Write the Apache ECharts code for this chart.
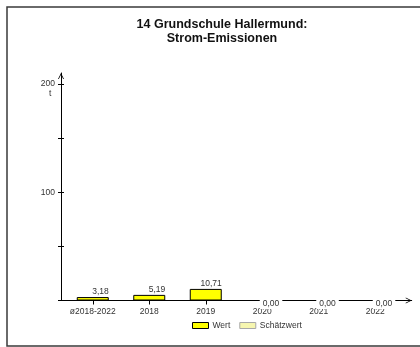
<!DOCTYPE html>
<html>
<head>
<meta charset="utf-8">
<script src="https://cdn.jsdelivr.net/npm/echarts@6/dist/echarts.min.js"></script>
<style>html,body{margin:0;padding:0;background:#fff}#c{width:420px;height:347px}</style>
</head>
<body>
<div id="c"></div>
<script>
var categories = ['ø2018-2022', '2018', '2019', '2020', '2021', '2022'];
var wertValues = [3.18, 5.19, 10.71, 0, 0, 0];
var schaetzValues = [];
var yTicks = [0, 50, 100, 150, 200];
var yLabels = [100, 200];
var yUnit = 't';

var FONT = 'Liberation Sans';
var FS = 8.5;
function fmt(v) { return v.toFixed(2).replace('.', ','); }

var zeroLabel = {
  position: [14, 3.5], align: 'left', verticalAlign: 'middle',
  backgroundColor: '#fff', padding: [1, 3]
};
var wertData = wertValues.map(function (v) {
  return v === 0 ? { value: v, label: zeroLabel } : v;
});

var arrowPath = 'path://M0,10 L5,0 L10,10 L8.6,10 L5,2.8 L1.4,10 Z';

var chart = echarts.init(document.getElementById('c'));
chart.setOption({
  animation: false,
  backgroundColor: '#fff',
  textStyle: { fontFamily: FONT },
  title: [{
    text: '14 Grundschule Hallermund:\nStrom-Emissionen',
    left: 222, top: 18, padding: 0, textAlign: 'center',
    textStyle: { fontFamily: FONT, fontSize: 12.5, fontWeight: 'bold', color: '#111', lineHeight: 14 }
  }, {
    text: yUnit, left: 49, top: 89, padding: 0,
    textStyle: { fontFamily: FONT, fontSize: FS, fontWeight: 'normal', color: '#333' }
  }],
  graphic: [{
    type: 'rect', silent: true,
    shape: { x: 7, y: 7, width: 440, height: 339 },
    style: { fill: 'none', stroke: '#3a3a3a', lineWidth: 1.5 }
  }],
  legend: {
    data: [
      { name: 'Wert', itemStyle: { color: '#ffff00', borderColor: '#000', borderWidth: 1 } },
      { name: 'Schätzwert', itemStyle: { color: '#f6f6b0', borderColor: '#a8a8a8', borderWidth: 1 } }
    ],
    left: 192, top: 321,
    icon: 'rect', itemWidth: 16, itemHeight: 6, itemGap: 9,
    padding: 0,
    textStyle: { fontFamily: FONT, fontSize: FS, color: '#333', padding: [0, 0, 0, -1] }
  },
  grid: [
    { left: 64.5, right: 16.5, top: 84, bottom: 46.5 },
    { left: 61, right: 8.3, top: 73, bottom: 46.5 }
  ],
  xAxis: [{
    type: 'category', gridIndex: 0, data: categories,
    axisLine: { show: false },
    axisTick: { show: true, alignWithLabel: true, length: 4, lineStyle: { color: '#000' } },
    axisLabel: { interval: 0, margin: 7, fontSize: FS, color: '#333', fontFamily: FONT },
    splitLine: { show: false }
  }, {
    type: 'value', gridIndex: 1, min: 0, max: 1,
    axisLine: { show: true, lineStyle: { color: '#000', width: 1 }, symbol: ['none', arrowPath], symbolSize: [7, 6], symbolOffset: [0, -3] },
    axisTick: { show: false }, axisLabel: { show: false }, splitLine: { show: false }
  }],
  yAxis: [{
    type: 'value', gridIndex: 0, position: 'left', min: 0, max: 200, interval: 50, offset: 3.5,
    axisLine: { show: false },
    axisTick: { show: true, length: 3, lineStyle: { color: '#000' } },
    axisLabel: {
      margin: 6, fontSize: FS, color: '#333', fontFamily: FONT,
      formatter: function (v) { return yLabels.indexOf(v) >= 0 ? String(v) : ''; }
    },
    splitLine: { show: false }
  }, {
    type: 'value', gridIndex: 0, position: 'left', min: 0, max: 200, interval: 50, offset: 3.5,
    axisLine: { show: false },
    axisTick: { show: true, inside: true, length: 3, lineStyle: { color: '#000' } },
    axisLabel: { show: false }, splitLine: { show: false }
  }, {
    type: 'value', gridIndex: 1, position: 'left', min: 0, max: 1,
    axisLine: { show: true, lineStyle: { color: '#000', width: 1 }, symbol: ['none', arrowPath], symbolSize: [7, 6], symbolOffset: [0, -3] },
    axisTick: { show: false }, axisLabel: { show: false }, splitLine: { show: false }
  }],
  series: [{
    name: 'Wert', type: 'bar', xAxisIndex: 0, yAxisIndex: 0,
    data: wertData, barWidth: 32, barGap: '-100%',
    itemStyle: { color: '#ffff00', borderColor: '#000', borderWidth: 1 },
    label: {
      show: true, position: ['100%', -1], align: 'right', verticalAlign: 'bottom',
      fontSize: FS, color: '#333', fontFamily: FONT,
      formatter: function (p) { return fmt(p.value); }
    },
    z: 3
  }, {
    name: 'Schätzwert', type: 'bar', xAxisIndex: 0, yAxisIndex: 0,
    data: schaetzValues, barWidth: 32, barGap: '-100%',
    itemStyle: { color: '#f6f6b0', borderColor: '#a8a8a8', borderWidth: 1 }
  }]
});
</script>
</body>
</html>
